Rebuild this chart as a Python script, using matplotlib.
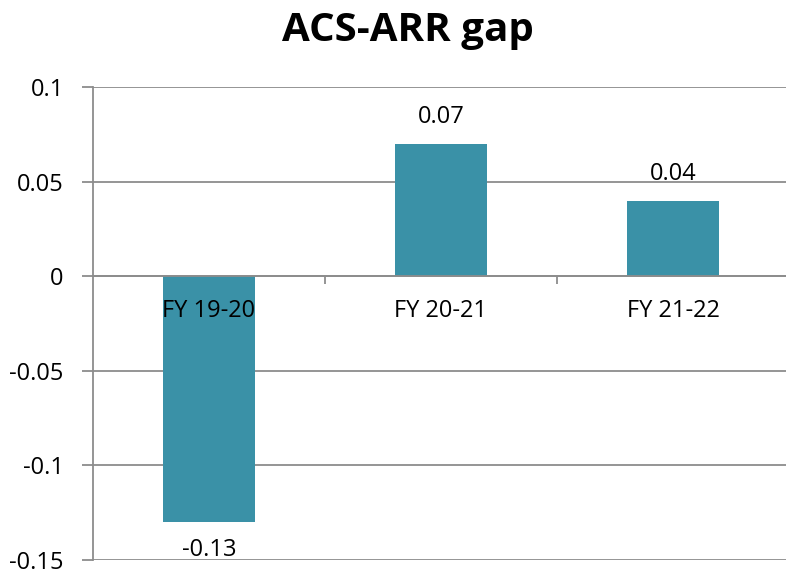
import matplotlib
matplotlib.use("Agg")
import matplotlib.pyplot as plt

categories = ["FY 19-20", "FY 20-21", "FY 21-22"]
values = [-0.13, 0.07, 0.04]
value_labels = ["-0.13", "0.07", "0.04"]
yticks = [0.1, 0.05, 0, -0.05, -0.1, -0.15]
ytick_labels = ["0.1", "0.05", "0", "-0.05", "-0.1", "-0.15"]

plt.rcParams['font.family'] = ['Open Sans', 'DejaVu Sans']

W, H = 786, 571
fig = plt.figure(figsize=(W / 100, H / 100), dpi=100)
ax = fig.add_axes([93 / W, 1 - 560 / H, (789 - 93) / W, (560 - 87) / H])

bar_color = "#3A91A7"
grid_color = "#8C8C8C"
x = list(range(len(categories)))
ax.bar(x, values, width=0.4, color=bar_color, zorder=2)

ax.set_xlim(-0.5, 2.5)
ax.set_ylim(-0.15, 0.1)
ax.set_yticks(yticks)
ax.set_yticklabels(ytick_labels, fontsize=17)
ax.set_axisbelow(True)
ax.grid(axis='y', color=grid_color, linewidth=1.3)
ax.tick_params(axis='y', length=8, width=1.3, color=grid_color, pad=13, labelcolor='black')

for s in ['top', 'right']:
    ax.spines[s].set_visible(False)
ax.spines['left'].set_color(grid_color)
ax.spines['left'].set_linewidth(1.3)
ax.spines['bottom'].set_position(('data', 0))
ax.spines['bottom'].set_color(grid_color)
ax.spines['bottom'].set_linewidth(1.3)
ax.set_xticks([0.5, 1.5])
ax.set_xticklabels([])
ax.tick_params(axis='x', length=6, width=1.3, color=grid_color, direction='out')

for xi, c in zip(x, categories):
    ax.annotate(c, (xi, 0), xytext=(0, -35), textcoords='offset pixels',
                ha='center', va='center', fontsize=17, zorder=5)

for xi, v, lab in zip(x, values, value_labels):
    off = 27 if v > 0 else -28
    ax.annotate(lab, (xi, v), xytext=(0, off), textcoords='offset pixels',
                ha='center', va='center', fontsize=17, zorder=5)

fig.text(408 / W, 1 - 31 / H, "ACS-ARR gap", ha='center', va='center',
         fontsize=29, fontweight='bold')

fig.savefig("out.png", dpi=100)
